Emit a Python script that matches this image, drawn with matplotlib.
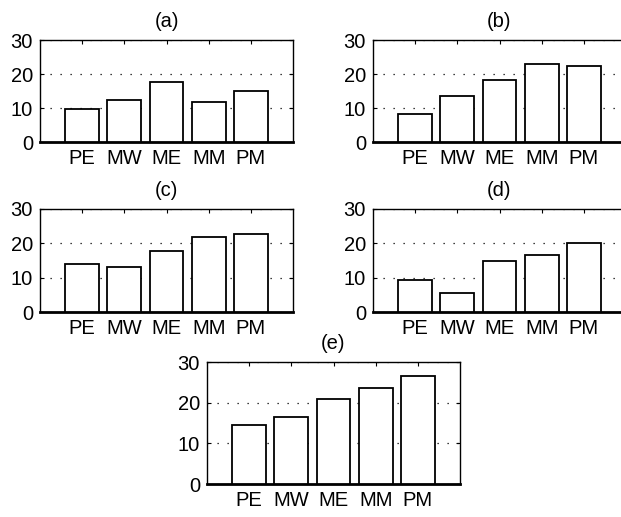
import numpy as np
import matplotlib.pyplot as plt

plt.rcParams['font.family'] = ['Liberation Sans', 'DejaVu Sans']

categories = ['PE', 'MW', 'ME', 'MM', 'PM']
vals_a = [9.7, 12.4, 17.6, 11.8, 15.1]
vals_b = [8.2, 13.4, 18.1, 23.0, 22.5]
vals_c = [14.1, 13.2, 17.7, 21.7, 22.7]
vals_d = [9.2, 5.5, 15.0, 16.5, 20.2]
vals_e = [14.6, 16.5, 20.8, 23.5, 26.6]

W, H = 621, 517
fig = plt.figure(figsize=(W / 100, H / 100), dpi=100)

# (title, values, left, top, right, bottom) in pixels
panels = [
    ('(a)', vals_a, 40, 40, 293, 142),
    ('(b)', vals_b, 373, 40, 626, 142),
    ('(c)', vals_c, 40, 209, 293, 312),
    ('(d)', vals_d, 373, 209, 626, 312),
    ('(e)', vals_e, 207, 362, 460, 484),
]

x = np.arange(1, len(categories) + 1)
for title, vals, l, t, r, b in panels:
    ax = fig.add_axes([l / W, 1 - b / H, (r - l) / W, (b - t) / H])
    ax.bar(x, vals, width=0.8, color='white', edgecolor='black', linewidth=1.3, zorder=3)
    ax.set_xlim(0, 6)
    ax.set_ylim(0, 30)
    ax.set_yticks([0, 10, 20, 30])
    ax.set_xticks(x)
    ax.set_xticklabels(categories)
    ax.tick_params(direction='in', length=3, width=0.8, labelsize=14.5, pad=5,
                   top=True, right=True)
    ax.yaxis.grid(True, linestyle=(0, (1, 7)), color='black', linewidth=0.9)
    ax.set_axisbelow(True)
    for s in ['top', 'left', 'right']:
        ax.spines[s].set_linewidth(1.0)
    ax.spines['bottom'].set_linewidth(2.0)
    ax.set_title(title, fontsize=14.5, pad=9.5)

fig.savefig('out.png', dpi=100)
